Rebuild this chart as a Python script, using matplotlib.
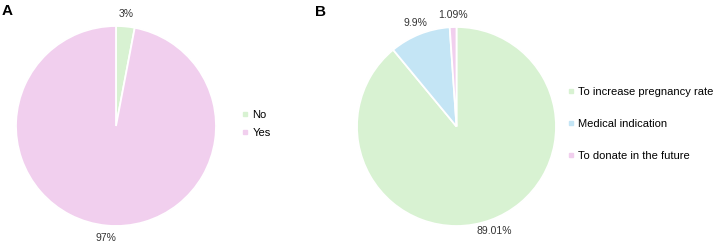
import matplotlib
matplotlib.use('Agg')
import matplotlib.pyplot as plt
from matplotlib.lines import Line2D
import numpy as np

plt.rcParams['font.family'] = ['Liberation Sans', 'DejaVu Sans']

# panel A
labels_a = ['No', 'Yes']
values_a = [3, 97]
pct_a = ['3%', '97%']
colors_a = ['#d8f2d2', '#f1cfee']

# panel B
labels_b = ['To increase pregnancy rate', 'Medical indication', 'To donate in the future']
values_b = [89.01, 9.9, 1.09]
pct_b = ['89.01%', '9.9%', '1.09%']
colors_b = ['#d8f2d2', '#c4e5f5', '#f1cfee']

W, H = 713, 243
fig = plt.figure(figsize=(W / 100, H / 100), dpi=100)


def draw_pie(rect, values, pcts, colors, labels, legend_xy, spacing):
    ax = fig.add_axes(rect)
    wedges, _ = ax.pie(values, colors=colors, startangle=90, counterclock=False,
                       radius=1, wedgeprops=dict(edgecolor='white', linewidth=1.3))
    ax.set_xlim(-1, 1)
    ax.set_ylim(-1, 1)
    ax.set_aspect('equal')
    ax.axis('off')
    for w, txt in zip(wedges, pcts):
        ang = np.deg2rad((w.theta1 + w.theta2) / 2)
        ax.text(1.12 * np.cos(ang), 1.12 * np.sin(ang), txt, ha='center', va='center',
                fontsize=7.5, color='#333333', clip_on=False)
    handles = [Line2D([], [], marker='s', linestyle='none', markersize=3.3,
                      markerfacecolor=c, markeredgecolor=c) for c in colors]
    fig.legend(handles, labels, loc='center left', bbox_to_anchor=legend_xy,
               frameon=False, fontsize=8, handlelength=0.4, handletextpad=0.45,
               labelspacing=spacing, borderpad=0, borderaxespad=0)
    return ax


draw_pie([16 / W, 17 / H, 200 / W, 200 / H], values_a, pct_a, colors_a, labels_a,
         (243 / W, 1 - 124 / H), 0.75)
draw_pie([357 / W, 17 / H, 199 / W, 199 / H], values_b, pct_b, colors_b, labels_b,
         (569 / W, 1 - 124 / H), 1.95)

fig.text(2 / W, 1 - 11 / H, 'A', fontsize=11, fontweight='bold', va='center')
fig.text(315 / W, 1 - 12 / H, 'B', fontsize=11, fontweight='bold', va='center')

fig.savefig('out.png', dpi=100)
